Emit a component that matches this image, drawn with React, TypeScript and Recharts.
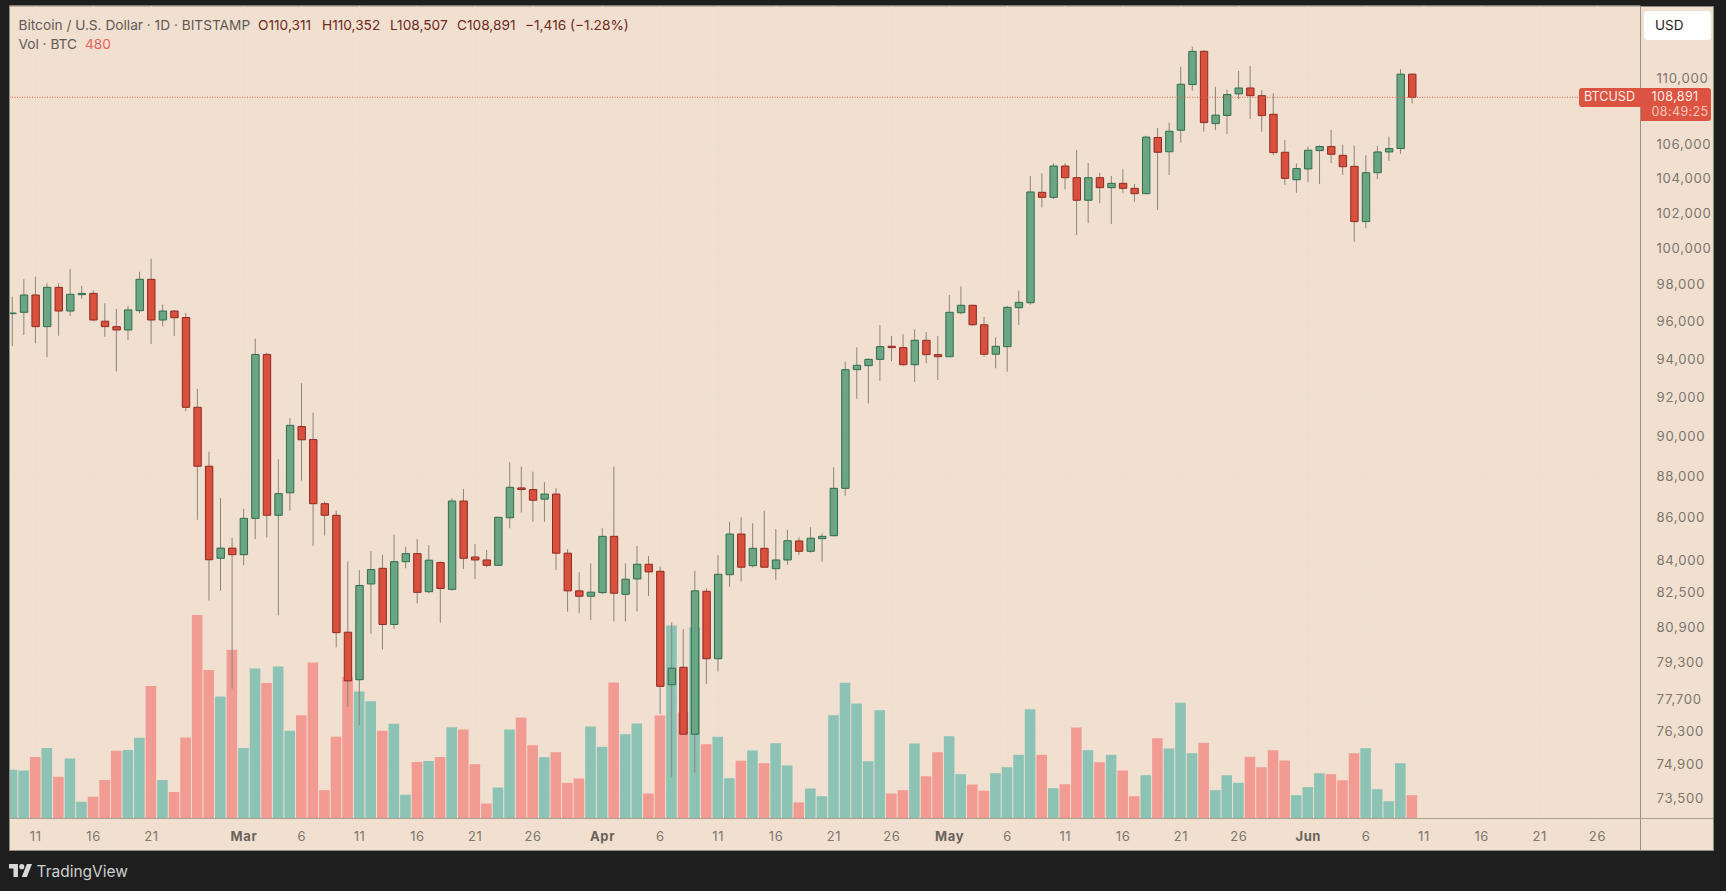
import React from "react";
import { ComposedChart, Bar, Cell, XAxis, YAxis, CartesianGrid, ReferenceLine } from "recharts";

const opens = [
96470,96540,97480,95770,97900,96610,97500,97570,96060,95770,
95590,96630,98340,96125,96610,96260,91540,88570,84120,84600,
84290,86020,94290,86170,87260,90560,89900,86730,86170,80710,
78590,82920,83650,81060,83960,84340,82560,83920,82670,86860,
84180,84040,83790,86050,87500,87420,86950,87200,84360,82600,
82350,82520,85160,82440,83150,83840,83510,78370,79140,76230,
82580,79520,83350,85270,83770,84590,83630,84040,84940,84450,
85050,85190,87480,93490,93700,94030,94720,94650,93750,95040,
94280,94170,96520,96920,95870,94300,94700,96790,97060,103250,
102960,104780,104100,102790,104100,103520,103770,103480,103170,106470,
105620,106900,109670,111730,107300,107790,109100,109460,108990,107860,
105590,103980,104610,105690,105930,105410,104760,101570,104390,105610,
105810,110311];
const highs = [
97390,98340,98490,98120,98120,98900,97980,97720,97030,96720,
96900,98760,99500,96970,96670,96500,92480,89290,87000,85080,
86490,95130,94390,88910,90980,92780,91280,86840,86400,83970,
83560,84460,84290,85250,84660,85030,84750,83970,87000,87450,
84800,84510,86100,88770,88550,88290,87780,87480,84550,83460,
83890,85550,88550,83890,84700,84230,83730,81160,80840,83540,
82720,84280,85860,86070,85790,86390,85510,85470,85120,85590,
85310,88520,93910,94670,94100,95860,95270,95360,95630,95480,
95270,97480,97940,96970,96300,95200,96880,97720,104200,104350,
104950,104950,105730,104960,104390,104200,104590,103730,106570,107030,
107360,110770,112020,111810,109540,109370,110510,110820,109340,109130,
106320,104930,105930,106010,106920,106030,105970,105410,105970,106530,
110620,110352];
const lows = [
94740,95320,94880,94140,95280,96340,97280,96070,95230,93390,
95050,96490,94840,95770,95270,91340,85960,82150,82610,78190,
83790,85030,85100,81480,86400,87860,84710,85200,80020,77410,
76610,80640,79930,80850,83650,82020,82490,81140,82610,83620,
83150,83700,83770,85550,86310,85860,85860,83570,81640,81570,
81260,82440,81190,81190,81650,82360,77100,74440,76190,74610,
78400,78950,82790,83030,83700,83680,83120,83810,84290,84390,
83960,85150,87120,91980,91730,92910,93940,93690,92860,93820,
92950,94150,96430,95820,94170,93560,93380,95860,96950,102370,
102860,103410,100810,101470,102620,101430,103190,102710,103150,102230,
104260,106160,109300,106810,106900,106680,108790,107570,106810,105410,
103670,103230,103850,103730,104960,104260,100430,101190,104020,105070,
105500,108507];
const closes = [
96500,97480,95770,97900,96610,97520,97570,96125,95770,95590,
96670,98340,96125,96610,96250,91540,88570,84050,84600,84290,
86020,94290,86170,87220,90620,89890,86730,86170,80690,78540,
82850,83590,81060,83960,84340,82530,84030,82710,86860,84120,
84040,83790,86070,87530,87420,86900,87200,84360,82600,82350,
82540,85160,82490,83140,83840,83480,78300,79100,76230,82600,
79520,83370,85270,83700,84590,83700,84040,84950,84450,85070,
85160,87480,93490,93720,94030,94700,94650,93750,95040,94280,
94170,96540,96920,95870,94300,94720,96810,97080,103270,102960,
104780,104100,102790,104100,103520,103770,103480,103170,106490,105590,
106840,109690,111730,107360,107810,109060,109460,108990,107780,105570,
104060,104630,105710,105930,105470,104740,101570,104390,105610,105810,
110311,108891];
const volumes = [
1003,987,1269,1452,859,1236,346,449,795,1397,
1413,1662,2730,795,546,1669,4190,3059,2513,3475,
1452,3090,2793,3131,1807,2128,3212,585,1685,2915,
2616,2416,1807,1951,490,1164,1185,1267,1881,1833,
1119,309,639,1833,2081,1510,1263,1366,735,824,
1895,1477,2802,1737,1957,515,2122,3976,2184,3935,
1531,1683,830,1189,1401,1139,1551,1092,330,618,
459,2128,2797,2369,1180,2231,515,583,1545,871,
1366,1695,913,700,571,933,1057,1312,2252,1312,
624,707,1875,1407,1160,1312,989,459,892,1654,
1442,2383,1345,1559,583,892,735,1271,1057,1407,
1195,480,645,933,913,789,1345,1448,604,356,
1139,480];

const tickDays = [2,7,12,20,25,30,35,40,45,51,56,61,66,71,76,81,86,91,96,101,106,112,117,122,127,132,137];
const tickLabels = ["11","16","21","Mar","6","11","16","21","26","Apr","6","11","16","21","26","May","6","11","16","21","26","Jun","6","11","16","21","26"];
const priceTicks = [110000,106000,104000,102000,100000,98000,96000,94000,92000,90000,88000,86000,84000,82500,80900,79300,77700,76300,74900,73500];

const rows = opens.map((o, i) => ({
  day: i,
  open: o,
  high: highs[i],
  low: lows[i],
  close: closes[i],
  volume: volumes[i],
  up: closes[i] >= o,
}));

const FONT = "Inter, 'Noto Sans', sans-serif";
const BG = "#f1e0d0";
const DARK = "#1e1e1e";
const DAY_DOMAIN: [number, number] = [-0.2645, 140.72];
const PRICE_DOMAIN: [number, number] = [72715, 114602];

function DateTick(props: any) {
  const { x, y, payload } = props;
  const idx = tickDays.indexOf(payload.value);
  const label = tickLabels[idx] ?? "";
  const month = /[A-Za-z]/.test(label);
  return (
    <text x={x} y={y} dy={5} textAnchor="middle" fontFamily={FONT} fontSize={13} letterSpacing={0.6}
      fontWeight={month ? 700 : 400} fill={month ? "#6a635b" : "#7d766c"}>
      {label}
    </text>
  );
}

const abs = (l: number, t: number, extra: any = {}) => ({ position: "absolute" as const, left: l, top: t, whiteSpace: "nowrap" as const, ...extra });
const headText = (l: number, t: number, color: string) => abs(l, t, { color, fontFamily: FONT, fontSize: 13.7, lineHeight: "16px" });

export default function App() {
  return (
    <div style={{ position: "absolute", left: 0, top: 0, width: 1726, height: 891, background: DARK, overflow: "hidden" }}>
      <div style={{ position: "absolute", left: 9, top: 5.5, width: 1705, height: 845, background: BG, boxSizing: "border-box", border: "1px solid #8f8b85" }} />
      <div style={{ position: "absolute", left: 0, top: 0 }}>
        <ComposedChart width={1726} height={891} data={rows} margin={{ top: 6, right: 12, bottom: 40, left: 9.5 }}>
          <CartesianGrid xAxisId="vol" yAxisId="price" stroke="#eddecf" strokeWidth={1} />
          <XAxis xAxisId="vol" dataKey="day" type="number" domain={DAY_DOMAIN} ticks={tickDays} interval={0} height={32.5}
            allowDataOverflow tick={DateTick} tickLine={false} tickMargin={11} axisLine={{ stroke: "#a89e91" }} />
          <XAxis xAxisId="wick" orientation="top" height={0} dataKey="day" type="number" domain={DAY_DOMAIN} ticks={tickDays} allowDataOverflow hide />
          <XAxis xAxisId="body" orientation="top" height={0} dataKey="day" type="number" domain={DAY_DOMAIN} ticks={tickDays} allowDataOverflow hide />
          <YAxis yAxisId="price" orientation="right" scale="log" domain={PRICE_DOMAIN} ticks={priceTicks} interval={0} width={73.5}
            allowDataOverflow tickLine={false} tickMargin={10} axisLine={{ stroke: "#8f8579" }}
            tick={{ fill: "#7d766c", fontSize: 13.2, fontFamily: FONT, letterSpacing: 0.7, dy: -1 }}
            tickFormatter={(v: number) => v.toLocaleString("en-US")} />
          <YAxis yAxisId="volume" domain={[0, 16738]} hide />
          <Bar xAxisId="vol" yAxisId="volume" dataKey="volume" barSize={10.6} isAnimationActive={false}>
            {rows.map((r) => <Cell key={r.day} fill={r.up ? "#8cc3b5" : "#f29b93"} />)}
          </Bar>
          <ReferenceLine xAxisId="vol" yAxisId="price" y={108891} stroke="#e2604f" strokeDasharray="1 1.5" strokeWidth={1} />
          <Bar xAxisId="wick" yAxisId="price" dataKey={(r: any) => [r.low, r.high]} barSize={1} isAnimationActive={false} fill="#8d8478" />
          <Bar xAxisId="body" yAxisId="price" dataKey={(r: any) => [Math.min(r.open, r.close), Math.max(r.open, r.close)]} barSize={7.4} isAnimationActive={false}>
            {rows.map((r) => <Cell key={r.day} fill={r.up ? "#6aa584" : "#d9503f"} stroke={r.up ? "#2f6d4e" : "#8e2b20"} strokeWidth={1} />)}
          </Bar>
        </ComposedChart>
      </div>
      <div style={{ position: "absolute", left: 0, top: 0, width: 9, height: 891, background: DARK }} />
      <div style={{ position: "absolute", left: 9, top: 5.5, width: 1, height: 845, background: "#8f8b85" }} />
      <div style={{ position: "absolute", left: 1640, top: 6, width: 1, height: 844, background: "#9a9084" }} />
      <div style={{ position: "absolute", left: 1640, top: 818, width: 73, height: 1, background: "#a89e91" }} />

      <div style={headText(18.5, 16.5, "#5f5a54")}>Bitcoin / U.S. Dollar · 1D · BITSTAMP</div>
      <div style={headText(258, 16.5, "#6e2a22")}>O110,311</div>
      <div style={headText(322, 16.5, "#6e2a22")}>H110,352</div>
      <div style={headText(390, 16.5, "#6e2a22")}>L108,507</div>
      <div style={headText(457, 16.5, "#6e2a22")}>C108,891</div>
      <div style={headText(525, 16.5, "#6e2a22")}>−1,416 (−1.28%)</div>
      <div style={headText(18.5, 36, "#5f5a54")}>Vol · BTC</div>
      <div style={headText(85, 36, "#e8605a")}>480</div>

      <div style={{ position: "absolute", left: 1644, top: 10.5, width: 66.5, height: 29, background: "#ffffff", borderRadius: 4, color: "#222", fontFamily: FONT, fontSize: 13.5, lineHeight: "29px", paddingLeft: 11, boxSizing: "border-box" }}>USD</div>
      <div style={{ position: "absolute", left: 1579, top: 88.3, width: 62, height: 18.4, background: "#dc5342", borderRadius: "3px 0 0 3px", color: "#fdeee8", fontFamily: FONT, fontSize: 12.6, lineHeight: "18.4px", paddingLeft: 5, boxSizing: "border-box" }}>BTCUSD</div>
      <div style={{ position: "absolute", left: 1640.5, top: 88.3, width: 70.5, height: 33, background: "#dc5342", borderRadius: "0 3px 3px 0", fontFamily: FONT, fontSize: 12.6, letterSpacing: 0.35, lineHeight: "15px", paddingLeft: 11, paddingTop: 1, boxSizing: "border-box" }}>
        <div style={{ color: "#fdeee8" }}>108,891</div>
        <div style={{ color: "#f7c6bb" }}>08:49:25</div>
      </div>

      <svg style={{ position: "absolute", left: 9.3, top: 864 }} width={23} height={13} viewBox="0 0 36 20">
        <path fill="#d8d8d8" d="M14 20H7V7H0V0h14v20zM28 20h-8L28 0h8L28 20z" />
        <circle cx={20} cy={4} r={4} fill="#d8d8d8" />
      </svg>
      <div style={{ position: "absolute", left: 36.5, top: 861, color: "#cfcfcf", fontFamily: FONT, fontSize: 15.5, lineHeight: "21px", whiteSpace: "nowrap" }}>TradingView</div>
    </div>
  );
}
